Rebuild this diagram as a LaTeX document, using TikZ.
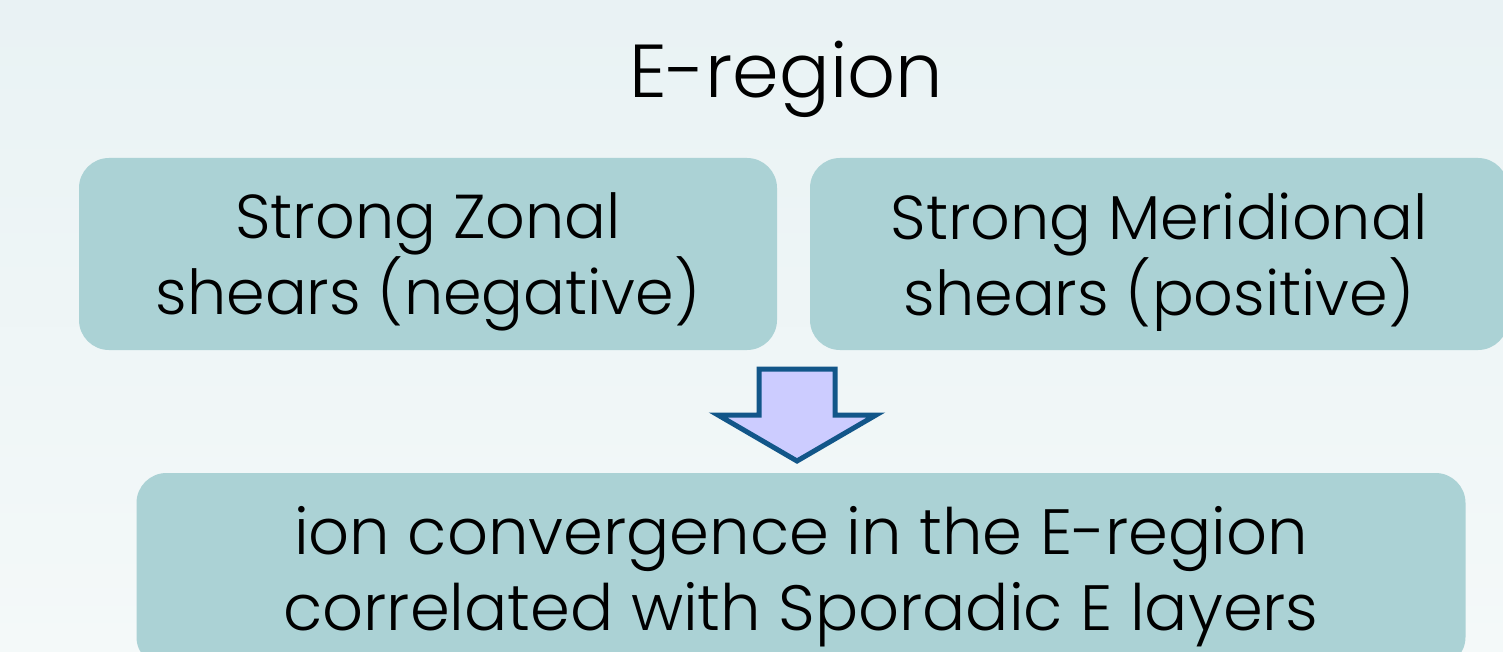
\documentclass[tikz,border=0pt]{standalone}
\usepackage{fontspec}
\setmainfont{Poppins}[UprightFont=*-Light]
\usetikzlibrary{positioning}

\definecolor{bgtop}{HTML}{E9F2F4}
\definecolor{bgbottom}{HTML}{F4F9F9}
\definecolor{boxfill}{HTML}{ABD2D5}
\definecolor{arrowfill}{HTML}{CCCCFF}
\definecolor{arrowline}{HTML}{125689}

\begin{document}
\begin{tikzpicture}[
    x=1pt, y=-1pt,
    shearbox/.style={rectangle, fill=boxfill, rounded corners=30pt, minimum width=698pt, minimum height=192pt, inner sep=0pt},
    resultbox/.style={rectangle, fill=boxfill, rounded corners=30pt, minimum width=1329pt, minimum height=194pt, inner sep=0pt},
    boxtext/.style={align=center, inner sep=0pt, yshift=-8pt, font=\fontsize{62}{76}\selectfont},
    titletext/.style={inner sep=0pt, font=\fontsize{75}{90}\selectfont},
    blockarrow/.style={draw=arrowline, fill=arrowfill, line width=5pt, line join=miter}
]

% Background
\fill[top color=bgtop, bottom color=bgbottom] (0,0) rectangle (1503,652);
\useasboundingbox (0,0) rectangle (1503,652);

% Title
\node[titletext, anchor=base] (title) at (786,98) {E-region};

% Shear boxes
\node[shearbox, label={[boxtext]center:{Strong Zonal\\shears (negative)}}] (zonal) at (428,254) {};
\node[shearbox, label={[boxtext]center:{Strong Meridional\\shears (positive)}}] (meridional) at (1159,254) {};

% Result box
\node[resultbox, label={[boxtext, yshift=1pt, font=\fontsize{64}{76}\selectfont]center:{ion convergence in the E-region\\correlated with Sporadic E layers}}] (result) at (801,570) {};

% Block arrow
\coordinate (tip) at (797,461);
\draw[blockarrow] (tip) -- ++(-79,-46) -- ++(41,0) -- ++(0,-46) -- ++(76,0) -- ++(0,46) -- ++(41,0) -- cycle;

\end{tikzpicture}
\end{document}
